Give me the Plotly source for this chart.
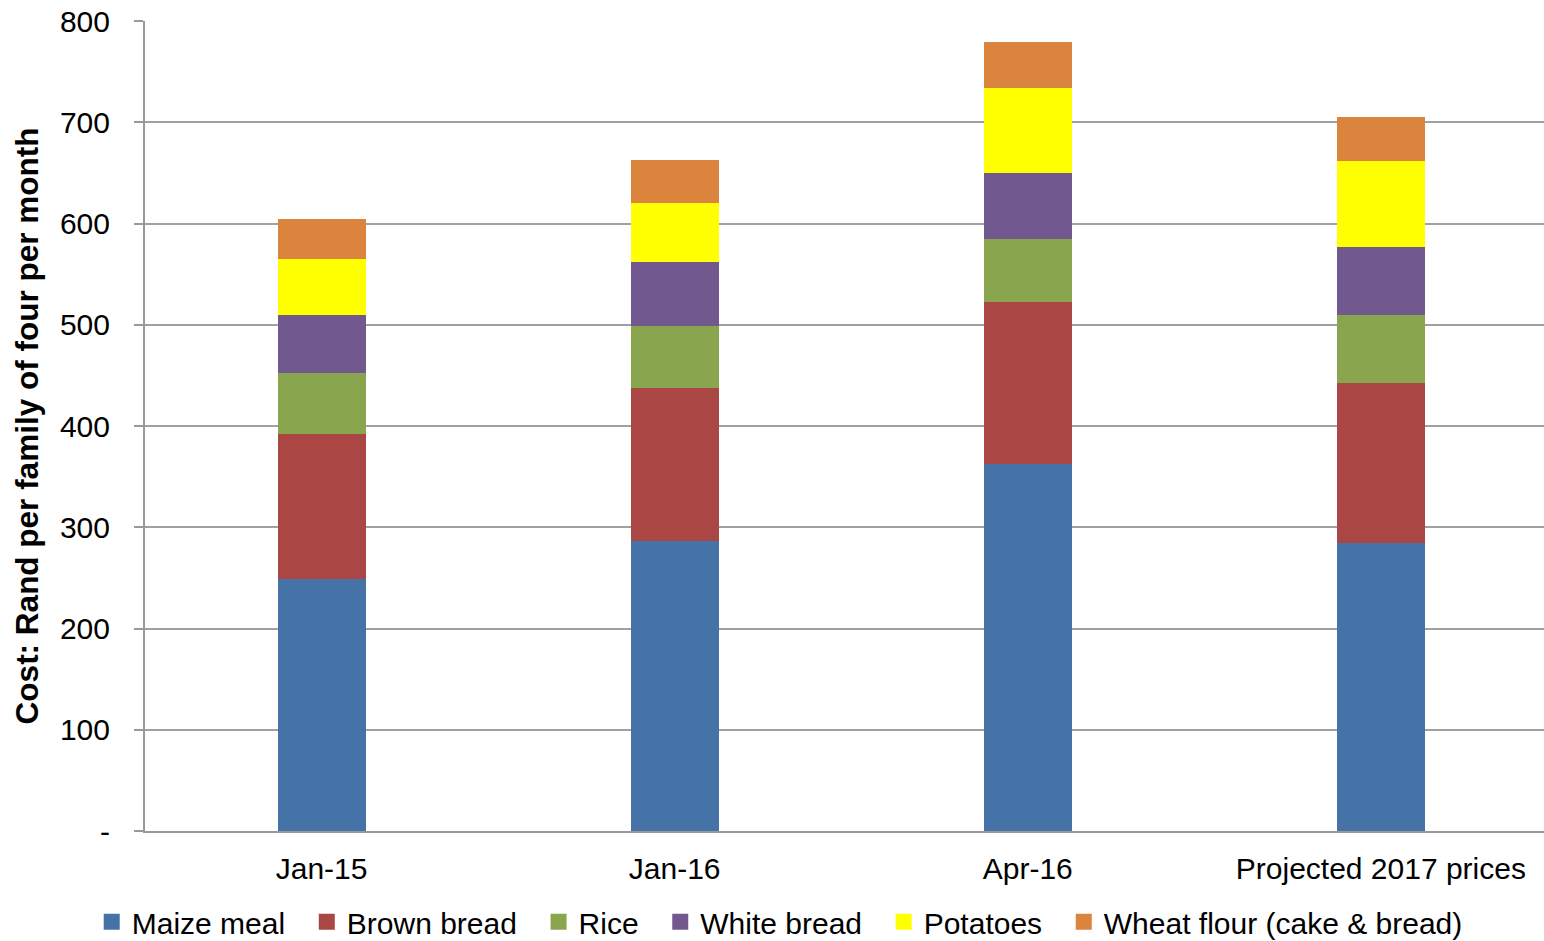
import plotly.graph_objects as go

categories = ["Jan-15", "Jan-16", "Apr-16", "Projected 2017 prices"]
maize_meal = [249, 286, 362, 284]
brown_bread = [143, 152, 160, 158]
rice = [60, 61, 63, 68]
white_bread = [58, 63, 65, 67]
potatoes = [55, 58, 84, 85]
wheat_flour = [39, 43, 45, 43]

series = [
    ("Maize meal", maize_meal, "#4573A7"),
    ("Brown bread", brown_bread, "#AA4643"),
    ("Rice", rice, "#89A54E"),
    ("White bread", white_bread, "#71588F"),
    ("Potatoes", potatoes, "#FFFF00"),
    ("Wheat flour (cake & bread)", wheat_flour, "#DB843D"),
]

ytick_vals = [0, 100, 200, 300, 400, 500, 600, 700, 800]
ytick_text = ["-", "100", "200", "300", "400", "500", "600", "700", "800"]

fig = go.Figure()
for name, vals, color in series:
    fig.add_trace(go.Bar(name=name, x=categories, y=vals, marker_color=color,
                         marker_line_width=0, width=0.249, showlegend=False,
                         legendgroup=name))
# legend entries with larger square symbols
for i, (name, vals, color) in enumerate(series):
    label = name if i == len(series) - 1 else name + "\u00a0\u00a0"
    fig.add_trace(go.Scatter(name=label, x=[None], y=[None], mode="markers",
                             marker=dict(symbol="square", size=16, color=color),
                             legendgroup=name, showlegend=True))

font = "Liberation Sans, Arial, sans-serif"
fig.update_layout(
    barmode="stack",
    width=1544, height=941,
    margin=dict(l=145, r=0, t=21, b=110),
    plot_bgcolor="white", paper_bgcolor="white",
    font=dict(family=font, size=30, color="black"),
    legend=dict(orientation="h", x=0.505, xanchor="center", xref="container",
                y=0.048, yanchor="top", yref="container",
                font=dict(size=30), traceorder="normal", itemwidth=30,
                tracegroupgap=0),
    showlegend=True,
)
fig.update_xaxes(
    range=[-0.5, 3.462], showline=True, linecolor="#999999", linewidth=2,
    ticks="", tickfont=dict(size=30), ticklabelstandoff=10,
)
fig.update_yaxes(
    range=[0, 800], tickvals=ytick_vals, ticktext=ytick_text,
    showgrid=True, gridcolor="#a0a0a0", gridwidth=1.5,
    showline=True, linecolor="#999999", linewidth=2,
    ticks="outside", ticklen=9, tickcolor="#999999", tickwidth=1.5,
    tickfont=dict(size=30), zeroline=False, ticklabelstandoff=18,
    title=dict(text="<b>Cost: Rand per family of four per month</b>", font=dict(size=31.5), standoff=12),
)

fig.write_html("out.html")
